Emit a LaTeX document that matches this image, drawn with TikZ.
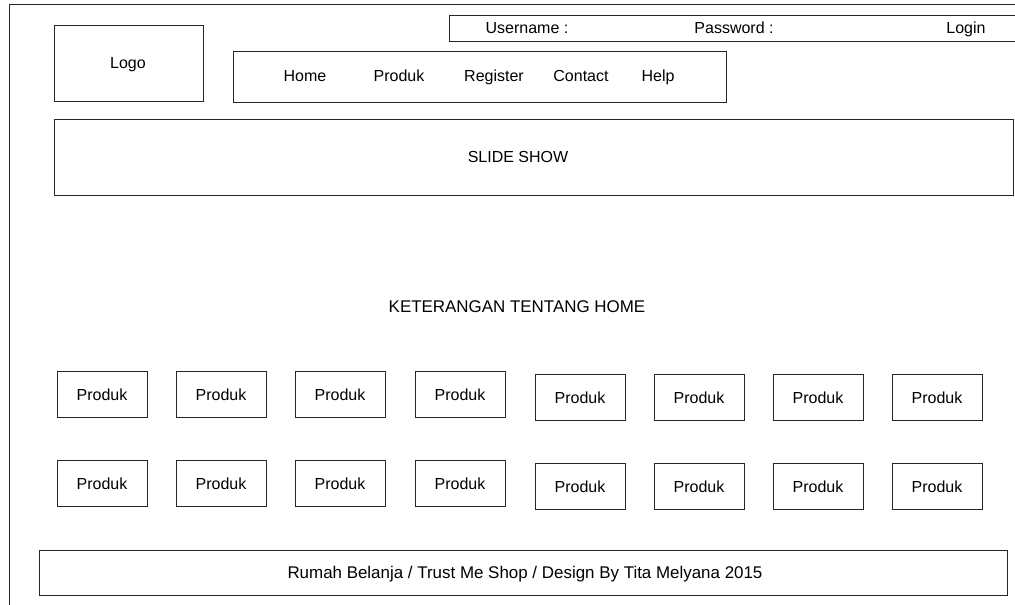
\documentclass[tikz,border=0pt]{standalone}
\usepackage{fontspec}
\setmainfont{Liberation Sans}
\begin{document}
\begin{tikzpicture}[x=0.75pt,y=-0.75pt,
  line width=0.75pt,
  frame/.style={draw=black!85, line width=0.75pt},
  box/.style={frame, rectangle, inner sep=0pt},
  lbl/.style={inner sep=0pt, anchor=base, yshift=-4.3pt, font=\fontsize{12pt}{14pt}\selectfont},
  biglbl/.style={lbl, yshift=-0.25pt, font=\fontsize{12.7pt}{15pt}\selectfont},
  prodbox/.style={box, minimum width=67.5pt, minimum height=34.5pt, font=\fontsize{12pt}{14pt}\selectfont}]
\useasboundingbox (0,0) rectangle (1015,605);

% page outline (top and left edges)
\coordinate (pgBL) at (9,605);
\coordinate (pgTL) at (9,5);
\coordinate (pgTR) at (1015,5);
\draw[frame] (pgBL) -- (pgTL) -- (pgTR);

% login bar
\node[box, minimum width=429pt, minimum height=19.5pt, anchor=north west] (login) at (449,15) {};
\node[lbl] (user) at (527,28) {Username :};
\node[lbl] (pass) at (734,28) {Password :};
\node[lbl] (loginbtn) at (966,28) {Login};

% logo
\node[box, minimum width=111.75pt, minimum height=57pt, anchor=north west] (logo) at (54,25) {};
\node[lbl] (logotxt) at (128,63) {Logo};

% menu
\node[box, minimum width=369.75pt, minimum height=38.25pt, anchor=north west] (menu) at (233,51) {};
\node[lbl] (mhome) at (305,76) {Home};
\node[lbl] (mprod) at (399,76) {Produk};
\node[lbl] (mreg) at (494,76) {Register};
\node[lbl] (mcont) at (581,76) {Contact};
\node[lbl] (mhelp) at (658,76) {Help};

% slide show
\node[box, minimum width=719.25pt, minimum height=57pt, anchor=north west] (slide) at (54,119) {};
\node[lbl] (slidetxt) at (518,157) {SLIDE SHOW};

% description
\node[biglbl] (ket) at (517,306) {KETERANGAN TENTANG HOME};

% product grid
\foreach \x [count=\i] in {102,221,340,460} {
  \node[prodbox] (pa\i) at (\x,395) {Produk};
  \node[prodbox] (pb\i) at (\x,484) {Produk};
}
\foreach \x [count=\i from 5] in {580,699,818,937} {
  \node[prodbox] (pa\i) at (\x,398) {Produk};
  \node[prodbox] (pb\i) at (\x,487) {Produk};
}

% footer
\node[box, minimum width=726pt, minimum height=33.75pt, anchor=north west] (footer) at (39,550) {};
\node[biglbl] (foottxt) at (525,572) {Rumah Belanja / Trust Me Shop / Design By Tita Melyana 2015};
\end{tikzpicture}
\end{document}
